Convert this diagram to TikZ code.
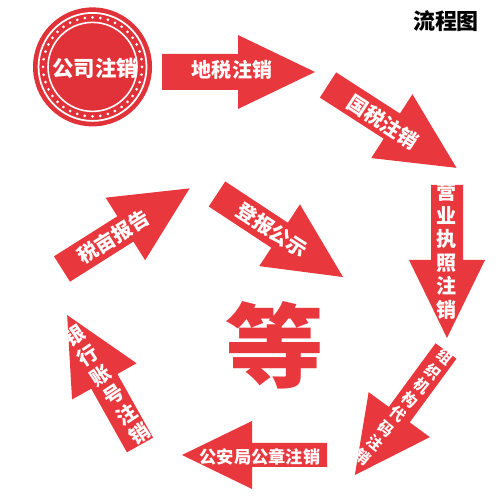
\documentclass[tikz,border=0pt]{standalone}
\usepackage{fontspec}
\usetikzlibrary{calc}
\newfontfamily\cjk{Noto Sans CJK SC}
\definecolor{ared}{RGB}{232,56,62}
\definecolor{cred}{RGB}{224,50,56}
\tikzset{
  txt/.style={text=white,font=\cjk\bfseries\fontsize{11.4}{13.4}\selectfont,inner sep=0pt},
  vtxt/.style={text=white,font=\cjk\bfseries\fontsize{11.4}{13.4}\selectfont,inner sep=0pt,align=center},
}
\newcommand\redarr[7]{%
\begin{scope}[shift={(#1,#2)},rotate=#3]
\fill[ared] (0,-#5) -- ({#4-#7},-#5) -- ({#4-#7},-#6) -- (#4,0) -- ({#4-#7},#6) -- ({#4-#7},#5) -- (0,#5) -- cycle;
\end{scope}}
\begin{document}
\begin{tikzpicture}[scale=0.02]
\fill[white] (0,0) rectangle (500,500);
\useasboundingbox (0,0) rectangle (500,500);
% company circle
\coordinate (C) at (92.5,433);
\fill[cred] (C) circle (59.5);
\draw[white,line width=1pt] (C) circle (54);
\foreach \a in {0,9,...,351} \fill[white] ($(C)+(\a:49.5)$) circle (1.5);
\draw[white,line width=0.9pt] (C) circle (44.5);
\node[txt,font=\cjk\bfseries\fontsize{12.2}{12.2}\selectfont] (c0) at (95,432) {公司注销};
% arrows
\redarr{162}{428}{0}{153}{18}{37}{77}
\node[txt] (a1) at (232,430) {地税注销};
\redarr{328}{415}{-32.8}{153}{15}{38}{77}
\node[txt,rotate=-33] (a2) at (383,378) {国税注销};
\redarr{447}{315}{-90}{153}{16}{38}{78}
\node[vtxt] (a3) at (447,249) {营\\业\\执\\照\\注\\销};
\redarr{446}{149}{-126.3}{154}{13}{38}{75}
\node[vtxt,font=\cjk\bfseries\fontsize{8.6}{10.5}\selectfont,rotate=-39.4] (a4) at (404,93) {组\\织\\机\\构\\代\\码\\注\\销};
\redarr{327}{45}{180}{145}{12}{34}{70}
\node[txt,font=\cjk\bfseries\fontsize{9.8}{12}\selectfont] (a5) at (260,43) {公安局公章注销};
\redarr{140}{55}{119.3}{149}{15}{37}{76}
\node[vtxt,rotate=33.6] (a6) at (107,115) {银\\行\\账\\号\\注\\销};
\redarr{62}{231}{32.3}{151}{15}{37}{76}
\node[txt,rotate=32] (a7) at (113,263) {税亩报告};
\redarr{217}{306}{-33.4}{151}{15}{37}{76}
\node[txt,rotate=-33] (a8) at (272,270) {登报公示};
% centre character
\node[text=ared,font=\cjk\bfseries\fontsize{52}{52}\selectfont,inner sep=0pt,xscale=1.08] (deng) at (275,155) {等};
% title
\node[font=\cjk\bfseries\fontsize{12.5}{12.5}\selectfont,inner sep=0pt] (title) at (446,479) {流程图};
\end{tikzpicture}
\end{document}
